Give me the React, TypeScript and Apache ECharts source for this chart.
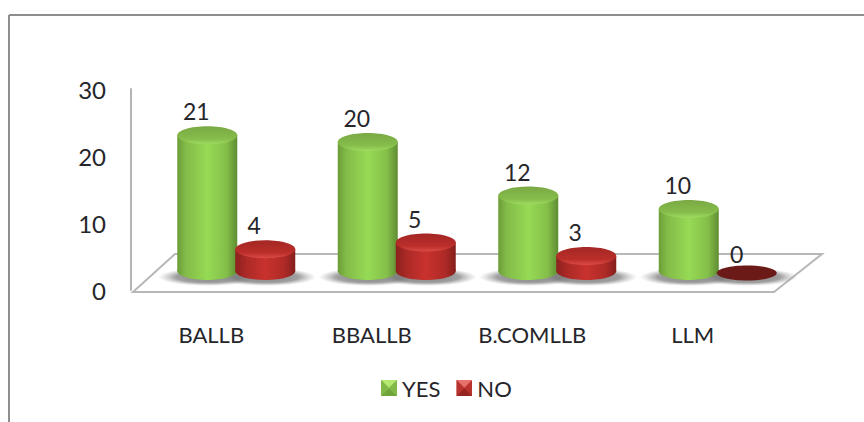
import React, { useEffect, useRef } from "react";
import * as echarts from "echarts";

const categories = ["BALLB", "BBALLB", "B.COMLLB", "LLM"];
const yesValues = [21, 20, 12, 10];
const noValues = [4, 5, 3, 0];
const yTicks = { min: 0, max: 30, interval: 10 };

const FONT = "Lato, 'Open Sans', sans-serif";
const INK = "#26262a";
const FLOOR_Y = 271;
const LIFT = 14;
const RX = 30;
const RY = 9;

const h = (a: number, b: number, stops: [number, string][]) =>
  new echarts.graphic.LinearGradient(a, 0, b, 0, stops.map(([offset, color]) => ({ offset, color })));
const v = (stops: [number, string][]) =>
  new echarts.graphic.LinearGradient(0, 0, 0, 1, stops.map(([offset, color]) => ({ offset, color })));
const shadowFill = () =>
  new echarts.graphic.RadialGradient(0.5, 0.5, 0.5, [
    { offset: 0, color: "rgba(105,105,105,0.85)" },
    { offset: 0.65, color: "rgba(120,120,120,0.7)" },
    { offset: 1, color: "rgba(160,160,160,0)" },
  ]);

const palettes: Record<string, any> = {
  YES: {
    body: [[0, "#6c9c38"], [0.14, "#83bb48"], [0.5, "#96da55"], [0.82, "#84bf49"], [1, "#5f8c32"]],
    top: [[0, "#7aa944"], [0.7, "#86bd4b"], [1, "#a0dc60"]],
    flat: "#7aa944",
    dx: -4,
  },
  NO: {
    body: [[0, "#8c211e"], [0.2, "#ad2a27"], [0.5, "#c9322e"], [0.82, "#ae2a27"], [1, "#841f1c"]],
    top: [[0, "#a32724"], [0.7, "#bb2e2a"], [1, "#dc4c47"]],
    flat: "#6c1a18",
    dx: 54,
  },
};

const makeRender = (name: string) => (_: any, api: any) => {
  const p = palettes[name];
  const idx = api.value(0);
  const val = api.value(1);
  const [cx0] = api.coord([idx, 0]);
  const [, yv] = api.coord([idx, val]);
  const cx = cx0 + p.dx;
  const children: any[] = [
    {
      type: "ellipse",
      z2: -1,
      shape: { cx: cx + 1, cy: FLOOR_Y + 6, rx: RX + 20, ry: 9 },
      style: { fill: shadowFill() },
    },
  ];
  if (val === 0) {
    children.push({
      type: "ellipse",
      shape: { cx, cy: FLOOR_Y + 2, rx: RX, ry: 7.5 },
      style: { fill: p.flat },
    });
    children.push({
      type: "text",
      z2: 5,
      style: {
        x: cx - 10, y: FLOOR_Y - 17, text: String(val), fill: INK,
        font: `23px ${FONT}`, align: "center", verticalAlign: "middle",
      },
    });
    return { type: "group", children };
  }
  const topY = yv - LIFT;
  const fill = h(0, 1, p.body);
  children.push(
    { type: "ellipse", shape: { cx, cy: FLOOR_Y, rx: RX, ry: RY }, style: { fill } },
    { type: "rect", shape: { x: cx - RX, y: topY, width: RX * 2, height: FLOOR_Y - topY }, style: { fill } },
    { type: "ellipse", shape: { cx, cy: topY, rx: RX, ry: RY }, style: { fill: v(p.top) } },
    {
      type: "text",
      z2: 5,
      style: {
        x: cx - 11, y: topY - RY - 15, text: String(val), fill: INK,
        font: `23px ${FONT}`, align: "center", verticalAlign: "middle",
      },
    },
  );
  return { type: "group", children };
};

const icon = (light: string, mid: string, dark: string, bottom: string) => {
  const svg = `<svg xmlns="http://www.w3.org/2000/svg" width="16" height="16"><rect width="16" height="16" fill="${mid}"/><polygon points="0,0 16,0 8,8" fill="${light}"/><polygon points="0,16 16,16 8,8" fill="${bottom}"/><polygon points="0,0 0,16 8,8" fill="${dark}"/><polygon points="16,0 16,16 8,8" fill="${dark}"/></svg>`;
  return "image://data:image/svg+xml;charset=utf-8," + encodeURIComponent(svg);
};

export default function App() {
  const ref = useRef<HTMLDivElement>(null);
  useEffect(() => {
    if (!ref.current) return;
    const chart = echarts.init(ref.current, undefined, { renderer: "svg" });
    chart.setOption({
      animation: false,
      backgroundColor: "#ffffff",
      grid: { left: 131, right: 91, top: 89, bottom: 132 },
      legend: {
        left: 376,
        top: 372,
        itemWidth: 16,
        itemHeight: 16,
        itemGap: 16,
        textStyle: { fontFamily: FONT, fontSize: 22, color: INK },
        data: [
          { name: "YES", icon: icon("#b4e870", "#90cc50", "#82b848", "#6fa43b") },
          { name: "NO", icon: icon("#e8706a", "#c63c37", "#b8322e", "#962622") },
        ],
      },
      xAxis: {
        type: "category",
        data: categories,
        axisLine: { show: false },
        axisTick: { show: false },
        axisLabel: { margin: 33, fontFamily: FONT, fontSize: 22, color: INK },
      },
      yAxis: {
        type: "value",
        ...yTicks,
        axisLine: { show: true, lineStyle: { color: "#b4b4b4", width: 2 } },
        axisTick: { show: false },
        splitLine: { show: false },
        axisLabel: { margin: 25, fontFamily: FONT, fontSize: 24, color: INK },
      },
      graphic: [
        {
          type: "polygon",
          z: 0,
          shape: { points: [[133, 292], [175, 254], [822, 254], [774, 292]] },
          style: { fill: "#ffffff", stroke: "#b8b8b8", lineWidth: 2 },
        },
        { type: "line", z: 0, shape: { x1: 9, y1: 15, x2: 864, y2: 15 }, style: { stroke: "#8e8e8e", lineWidth: 2 } },
        { type: "line", z: 0, shape: { x1: 9, y1: 15, x2: 9, y2: 422 }, style: { stroke: "#8e8e8e", lineWidth: 2 } },
      ],
      series: [
        {
          name: "YES",
          type: "custom",
          renderItem: makeRender("YES"),
          encode: { x: 0, y: 1 },
          itemStyle: { color: "#84bf49" },
          data: yesValues.map((val, i) => [i, val]),
        },
        {
          name: "NO",
          type: "custom",
          renderItem: makeRender("NO"),
          encode: { x: 0, y: 1 },
          itemStyle: { color: "#bb2e2a" },
          data: noValues.map((val, i) => [i, val]),
        },
      ],
    });
    return () => chart.dispose();
  }, []);
  return <div ref={ref} style={{ position: "fixed", left: 0, top: 0, width: 864, height: 422 }} />;
}
